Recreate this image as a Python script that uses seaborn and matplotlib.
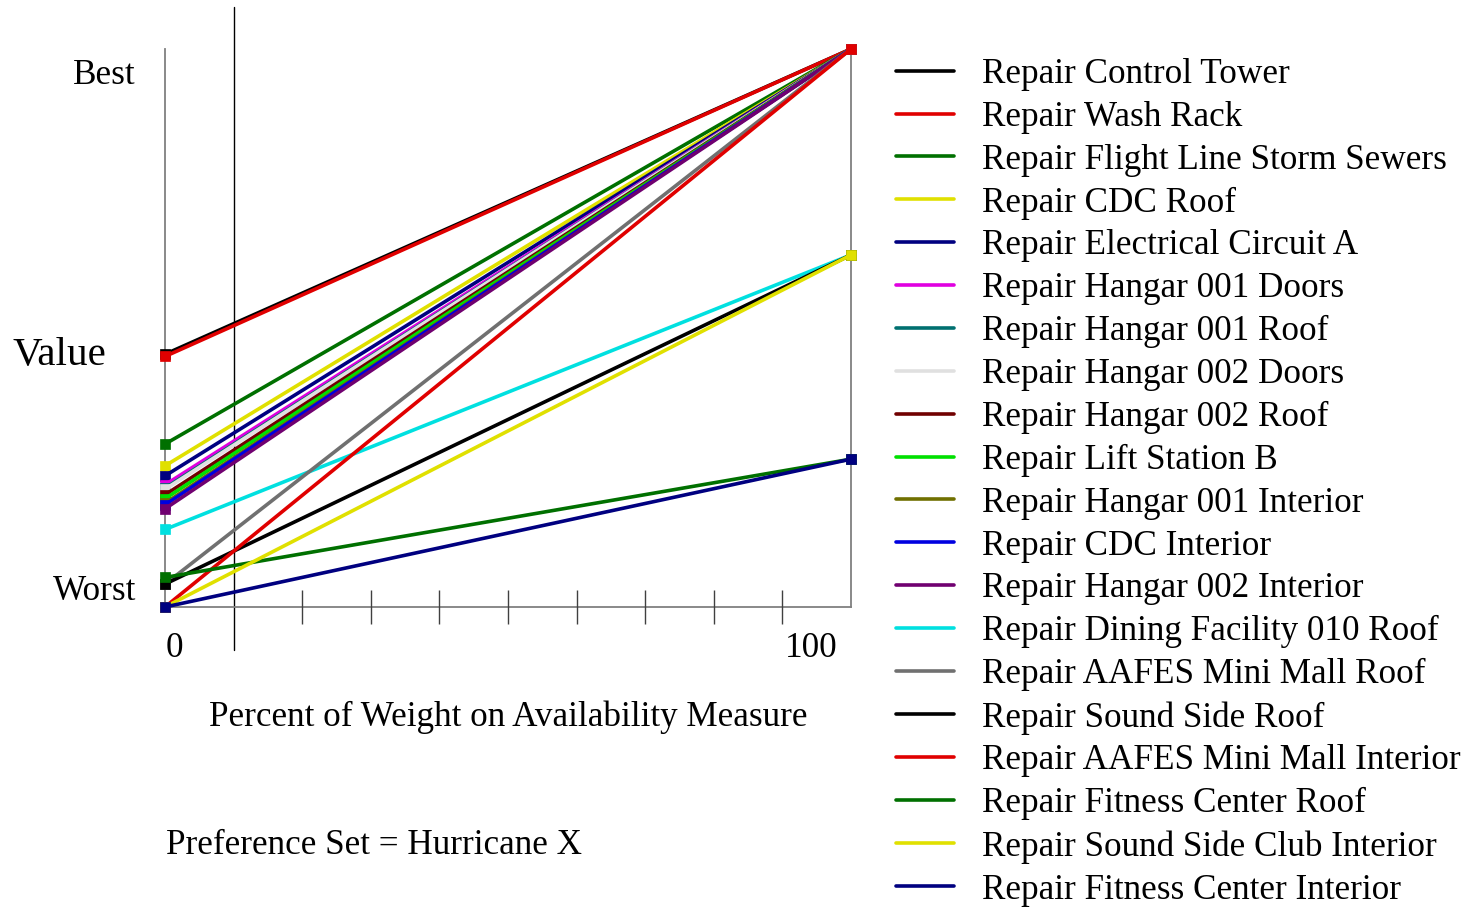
import numpy as np
import pandas as pd
import matplotlib
matplotlib.use("Agg")
import matplotlib.pyplot as plt
import matplotlib.transforms as mtransforms
from matplotlib.lines import Line2D
import seaborn as sns

# ---------------- data ----------------
alternatives = [
    "Repair Control Tower",
    "Repair Wash Rack",
    "Repair Flight Line Storm Sewers",
    "Repair CDC Roof",
    "Repair Electrical Circuit A",
    "Repair Hangar 001 Doors",
    "Repair Hangar 001 Roof",
    "Repair Hangar 002 Doors",
    "Repair Hangar 002 Roof",
    "Repair Lift Station B",
    "Repair Hangar 001 Interior",
    "Repair CDC Interior",
    "Repair Hangar 002 Interior",
    "Repair Dining Facility 010 Roof",
    "Repair AAFES Mini Mall Roof",
    "Repair Sound Side Roof",
    "Repair AAFES Mini Mall Interior",
    "Repair Fitness Center Roof",
    "Repair Sound Side Club Interior",
    "Repair Fitness Center Interior",
]
value_at_0 = [0.453, 0.449, 0.292, 0.253, 0.235, 0.219, 0.213, 0.211, 0.201, 0.194,
              0.186, 0.183, 0.176, 0.139, 0.041, 0.041, 0.0, 0.053, 0.0, 0.0]
value_at_100 = [1.0, 1.0, 1.0, 1.0, 1.0, 1.0, 1.0, 1.0, 1.0, 1.0,
                1.0, 1.0, 1.0, 0.631, 1.0, 0.631, 1.0, 0.265, 0.631, 0.265]
weights = [0, 100]
current_weight = 10
tick_minor = [20, 30, 40, 50, 60, 70, 80, 90]
colors = ["#000000", "#e00000", "#007000", "#e0e000", "#000080", "#e000e0",
          "#007070", "#e0e0e0", "#700000", "#00e000", "#707000", "#0000e0",
          "#700070", "#00e0e0", "#707070", "#000000", "#e00000", "#007000",
          "#e0e000", "#000080"]

rows = []
for name, v0, v1 in zip(alternatives, value_at_0, value_at_100):
    rows.append({"alt": name, "weight": weights[0], "value": v0})
    rows.append({"alt": name, "weight": weights[1], "value": v1})
df = pd.DataFrame(rows)

# ---------------- style ----------------
sns.set_style("white")
plt.rcParams["font.family"] = ["Liberation Serif", "DejaVu Serif"]
plt.rcParams["text.color"] = "black"
plt.rcParams["axes.labelcolor"] = "black"
plt.rcParams["xtick.color"] = "black"
plt.rcParams["ytick.color"] = "black"
FS = 25.3
LW = 2.6

W, H = 1476, 908
fig = plt.figure(figsize=(W / 100, H / 100), dpi=100)
ax = fig.add_axes([165 / W, 1 - 607 / H, (851 - 165) / W, (607 - 49) / H])

for name, col in zip(alternatives, colors):
    sub = df[df["alt"] == name]
    sns.lineplot(data=sub, x="weight", y="value", color=col, linewidth=LW,
                 marker="s", markersize=7.5, markeredgecolor=col,
                 markeredgewidth=0.5, ax=ax, legend=False, clip_on=False,
                 sort=False, estimator=None)

ax.set_xlim(0, 100)
ax.set_ylim(0, 1)

# reference line at current weight
ax.axvline(current_weight, ymin=(607 - 650) / 558, ymax=(607 - 7) / 558,
           color="black", lw=1.0, clip_on=False, zorder=0)

# spines
for s in ["left", "right", "bottom"]:
    ax.spines[s].set_visible(True)
    ax.spines[s].set_color("#808080")
    ax.spines[s].set_linewidth(1.3)
    ax.spines[s].set_zorder(0)
ax.spines["top"].set_visible(False)

# x ticks
ax.set_xticks(weights)
ax.set_xticklabels(["0", "100"], fontsize=FS)
ax.set_xticks(tick_minor, minor=True)
ax.tick_params(axis="x", which="major", length=0, pad=18)
ax.tick_params(axis="x", which="minor", direction="inout", length=25,
               width=1.0, color="#404040", bottom=True)
xl = ax.get_xticklabels()
xl[0].set_ha("left")
xl[1].set_ha("right")
xl[0].set_transform(xl[0].get_transform() +
                    mtransforms.ScaledTranslation(1 / 100, 0, fig.dpi_scale_trans))
xl[1].set_transform(xl[1].get_transform() +
                    mtransforms.ScaledTranslation(-13 / 100, 0, fig.dpi_scale_trans))

# y ticks
ax.set_yticks([0, 1])
ax.set_yticklabels(["Worst", "Best"], fontsize=FS)
ax.tick_params(axis="y", which="major", length=0, pad=21)
yl = ax.get_yticklabels()
yl[0].set_transform(yl[0].get_transform() +
                    mtransforms.ScaledTranslation(0, 20 / 100, fig.dpi_scale_trans))
yl[1].set_transform(yl[1].get_transform() +
                    mtransforms.ScaledTranslation(0, -23 / 100, fig.dpi_scale_trans))

ax.set_xlabel("Percent of Weight on Availability Measure", fontsize=FS)
ax.xaxis.set_label_coords(0.5, (607 - 717) / 558)
ax.xaxis.label.set_va("center")
ax.set_ylabel("Value", fontsize=29.5, rotation=0)
ax.yaxis.set_label_coords((59 - 165) / 686, (607 - 355) / 558)
ax.yaxis.label.set_va("center")
ax.yaxis.label.set_ha("center")

fig.text(166 / W, 1 - 846 / H, "Preference Set = Hurricane X", fontsize=FS,
         va="center", ha="left")

handles = [Line2D([], [], color=c, lw=LW) for c in colors]
fig.legend(handles, alternatives, loc="upper left",
           bbox_to_anchor=(896 / W, 1 - 58 / H), frameon=False, fontsize=FS,
           handlelength=1.66, handletextpad=0.79, labelspacing=0.28,
           borderpad=0, borderaxespad=0)

fig.savefig("out.png", dpi=100)
